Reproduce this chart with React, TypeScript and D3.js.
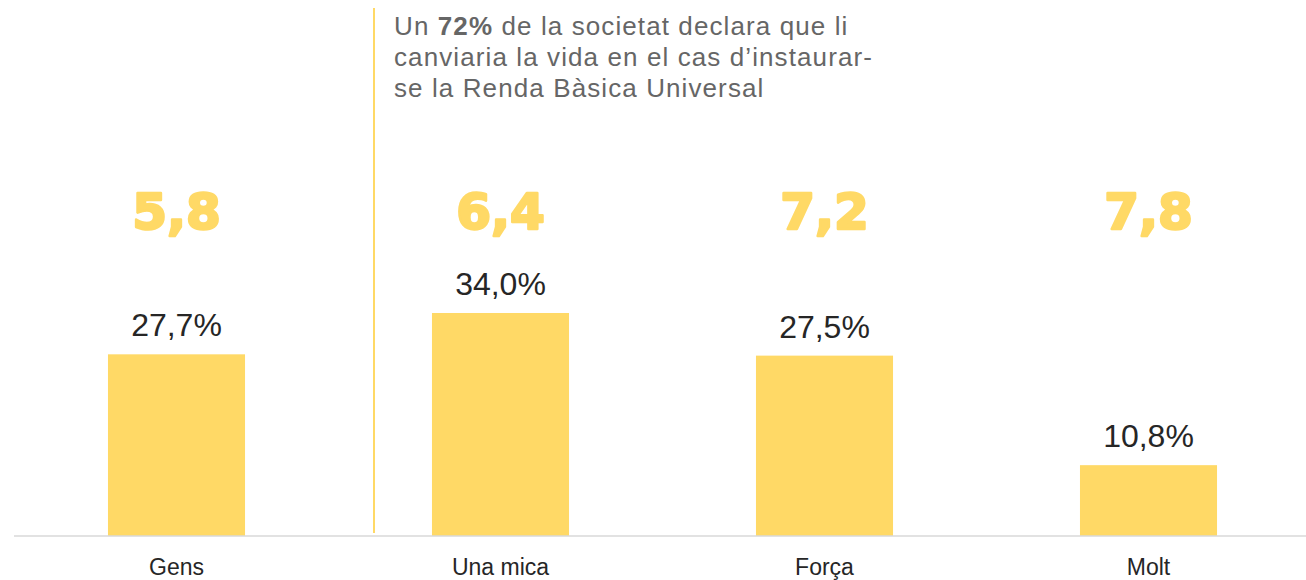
import React from "react";
import { scaleBand, scaleLinear } from "d3";

const categories = ["Gens", "Una mica", "Força", "Molt"];
const percentages = [27.7, 34.0, 27.5, 10.8];
const scores = ["5,8", "6,4", "7,2", "7,8"];
const percentLabels = ["27,7%", "34,0%", "27,5%", "10,8%"];

const width = 1306;
const height = 580;
const baseline = 536;
const yellow = "#FFD966";
const font = "'Liberation Sans', Arial, sans-serif";

export default function App() {
    const xScale = scaleBand<string>()
        .domain(categories)
        .range([14.5, 1310.5])
        .paddingInner(0.577)
        .paddingOuter(0.2885);

    const yScale = scaleLinear()
        .domain([0, 34])
        .range([baseline, 313]);

    return (
        <svg
            width={width}
            height={height}
            style={{ position: "absolute", left: 0, top: 0, background: "#fff" }}
        >
            {/* separator line next to the annotation */}
            <line x1={374} x2={374} y1={8} y2={533} stroke={yellow} strokeWidth={2} />

            <text fontFamily={font} fontSize={26} fill="#666" letterSpacing={1.1}>
                <tspan x={394} y={35}>
                    Un <tspan fontWeight="bold">72%</tspan> de la societat declara que li
                </tspan>
                <tspan x={394} y={66}>canviaria la vida en el cas d’instaurar-</tspan>
                <tspan x={394} y={97}>se la Renda Bàsica Universal</tspan>
            </text>

            {categories.map((c, i) => {
                const x = xScale(c) as number;
                const cx = x + xScale.bandwidth() / 2;
                const top = yScale(percentages[i]);
                return (
                    <g key={c}>
                        <rect
                            x={x}
                            y={top}
                            width={xScale.bandwidth()}
                            height={baseline - top}
                            fill={yellow}
                        />
                        <text
                            x={cx}
                            y={top - 18}
                            textAnchor="middle"
                            fontFamily={font}
                            fontSize={32}
                            fill="#262626"
                        >
                            {percentLabels[i]}
                        </text>
                        <text
                            x={cx}
                            y={229}
                            textAnchor="middle"
                            fontFamily="'DejaVu Sans', sans-serif"
                            fontWeight="bold"
                            fontSize={50}
                            fill={yellow}
                            stroke={yellow}
                            strokeWidth={2.5}
                            strokeLinejoin="round"
                        >
                            {scores[i]}
                        </text>
                        <text
                            x={cx}
                            y={575}
                            textAnchor="middle"
                            fontFamily={font}
                            fontSize={23}
                            fill="#262626"
                        >
                            {c}
                        </text>
                    </g>
                );
            })}

            <line x1={14} x2={width} y1={baseline} y2={baseline} stroke="#d9d9d9" strokeWidth={1.5} />
        </svg>
    );
}
